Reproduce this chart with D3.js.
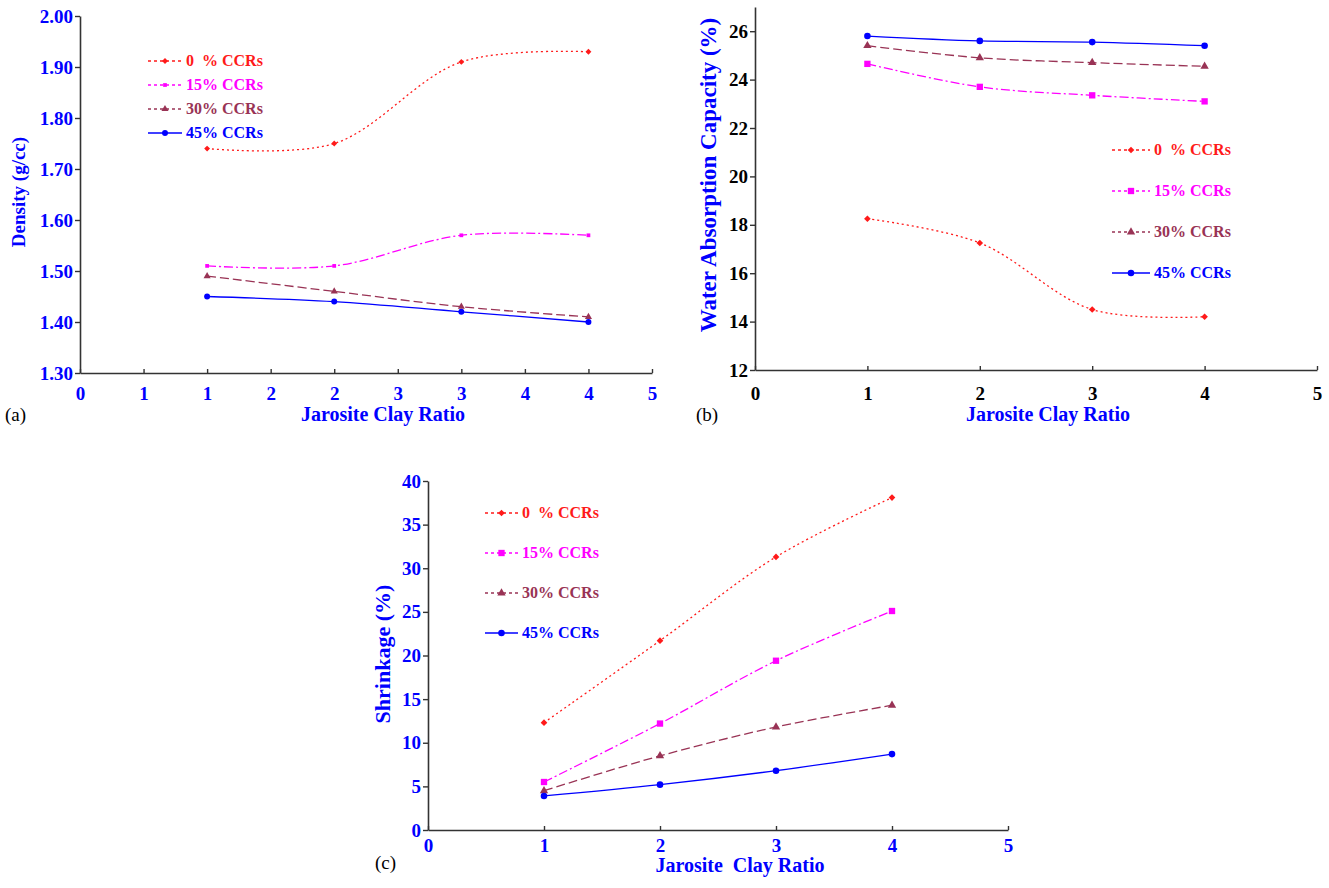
<!DOCTYPE html>
<html>
<head>
<meta charset="utf-8">
<script src="https://cdn.jsdelivr.net/npm/d3@7"></script>
<style>
  body { margin: 0; background: #fff; }
  text { font-family: "Liberation Serif", "Times New Roman", serif; }
</style>
</head>
<body>
<div id="chart"></div>
<script>
// Three panels: density, water absorption, shrinkage vs jarosite clay ratio

// Pt. 0 - DATA

const ratios = [1, 2, 3, 4];
const seriesNames = ["0  % CCRs", "15% CCRs", "30% CCRs", "45% CCRs"];

// (a) density g/cc
const density0 = [1.74, 1.75, 1.91, 1.93];
const density15 = [1.51, 1.51, 1.57, 1.57];
const density30 = [1.49, 1.46, 1.43, 1.41];
const density45 = [1.45, 1.44, 1.42, 1.40];

// (b) water absorption %
const water0 = [18.25, 17.25, 14.5, 14.2];
const water15 = [24.65, 23.7, 23.35, 23.1];
const water30 = [25.4, 24.9, 24.7, 24.55];
const water45 = [25.8, 25.6, 25.55, 25.4];

// (c) shrinkage %
const shrink0 = [12.3, 21.7, 31.3, 38.1];
const shrink15 = [5.5, 12.2, 19.4, 25.1];
const shrink30 = [4.5, 8.5, 11.8, 14.3];
const shrink45 = [3.9, 5.2, 6.8, 8.7];

// tick values and labels
const xTicksA = [0, 0.5, 1, 1.5, 2, 2.5, 3, 3.5, 4, 4.5];
const xLabelsA = ["0", "1", "1", "2", "2", "3", "3", "4", "4", "5"];
const yTicksA = [1.30, 1.40, 1.50, 1.60, 1.70, 1.80, 1.90, 2.00];
const xTicksB = [0, 1, 2, 3, 4, 5];
const yTicksB = [12, 14, 16, 18, 20, 22, 24, 26];
const xTicksC = [0, 1, 2, 3, 4, 5];
const yTicksC = [0, 5, 10, 15, 20, 25, 30, 35, 40];
const yMinorC = [2.5, 7.5, 12.5, 17.5, 22.5, 27.5, 32.5, 37.5];

// Pt. 1 - STYLE

const colors = ["#ff1a1a", "#ff00ff", "#993355", "#0000ff"],
      dashes = ["2,3", "9,3,2,3", "9,4", null],
      shapes = [d3.symbolDiamond2, d3.symbolSquare, d3.symbolTriangle, d3.symbolCircle];

const width = 1329, height = 888;

let svg = d3.select("#chart")
    .append("svg")
    .attr("width", width)
    .attr("height", height);

// draw one panel
function panel(p) {
    let x = d3.scaleLinear().domain(p.xDomain).range([p.left, p.right]);
    let y = d3.scaleLinear().domain(p.yDomain).range([p.bottom, p.top]);

    let g = svg.append("g");

    // x axis
    g.append("g")
        .attr("transform", `translate(0, ${p.bottom})`)
        .call(d3.axisBottom(x)
            .tickValues(p.xTicks)
            .tickFormat((d, i) => p.xLabels ? p.xLabels[i] : d)
            .tickSizeInner(-4).tickSizeOuter(0).tickPadding(p.xPad));
    // y axis
    g.append("g")
        .attr("transform", `translate(${p.left}, 0)`)
        .call(d3.axisLeft(y)
            .tickValues(p.yTicks)
            .tickFormat(p.yFormat)
            .tickSize(5).tickSizeOuter(0).tickPadding(2));
    if (p.yMinor) {
        g.append("g")
            .attr("transform", `translate(${p.left}, 0)`)
            .call(d3.axisLeft(y).tickValues(p.yMinor).tickFormat("").tickSize(3).tickSizeOuter(0));
    }
    g.selectAll(".domain").attr("stroke", "#333").attr("stroke-width", 1.6);
    g.selectAll(".tick line").attr("stroke", "#333").attr("stroke-width", 1.4);
    g.selectAll(".tick text")
        .style("font-family", "Liberation Serif")
        .style("font-weight", "bold")
        .style("font-size", p.tickSize + "px")
        .attr("fill", p.tickColor);

    // lines
    p.series.forEach((vals, i) => {
        let pts = ratios.map((r, j) => [r, vals[j]]);
        g.append("path")
            .datum(pts)
            .attr("fill", "none")
            .attr("stroke", colors[i])
            .attr("stroke-width", 1.3)
            .attr("stroke-dasharray", dashes[i])
            .attr("d", d3.line().x(d => x(d[0])).y(d => y(d[1])).curve(d3.curveCatmullRom));
        g.selectAll(null)
            .data(pts)
            .join("path")
            .attr("transform", d => `translate(${x(d[0])}, ${y(d[1])})`)
            .attr("d", d3.symbol().type(shapes[i]).size(p.markSize[i]))
            .attr("fill", colors[i]);
    });

    // legend
    seriesNames.forEach((name, i) => {
        let ly = p.legend.y + i * p.legend.step;
        g.append("line")
            .attr("x1", p.legend.x).attr("x2", p.legend.x + p.legend.len)
            .attr("y1", ly).attr("y2", ly)
            .attr("stroke", colors[i]).attr("stroke-width", 1.3)
            .attr("stroke-dasharray", dashes[i] ? "3,3" : null);
        g.append("path")
            .attr("transform", `translate(${p.legend.x + p.legend.len / 2}, ${ly})`)
            .attr("d", d3.symbol().type(shapes[i]).size(p.markSize[i]))
            .attr("fill", colors[i]);
        g.append("text")
            .attr("x", p.legend.x + p.legend.len + 4)
            .attr("y", ly + 5)
            .attr("fill", colors[i])
            .style("font-weight", "bold")
            .style("font-size", p.legend.font + "px")
            .style("white-space", "pre")
            .text(name);
    });

    // axis titles
    g.append("text")
        .attr("x", p.xTitleX)
        .attr("y", p.xTitleY)
        .attr("text-anchor", "middle")
        .attr("fill", "#0000ff")
        .style("font-weight", "bold")
        .style("font-size", "20px")
        .style("white-space", "pre")
        .text(p.xTitle);
    g.append("text")
        .attr("transform", `translate(${p.yTitleX}, ${p.yTitleCy}) rotate(-90)`)
        .attr("text-anchor", "middle")
        .attr("fill", "#0000ff")
        .style("font-weight", "bold")
        .style("font-size", p.yTitleSize + "px")
        .text(p.yTitle);
    g.append("text")
        .attr("x", p.tag[0]).attr("y", p.tag[1])
        .attr("fill", "#000")
        .style("font-size", "19px")
        .text(p.tagText);
}

panel({
    left: 80, right: 652, top: 16, bottom: 373,
    xDomain: [0, 4.5], yDomain: [1.30, 2.00],
    xTicks: xTicksA, xLabels: xLabelsA, yTicks: yTicksA, yFormat: d3.format(".2f"),
    tickColor: "#0000ff", tickSize: 19, xPad: 14,
    series: [density0, density15, density30, density45],
    markSize: [22, 14, 22, 28],
    legend: { x: 148, y: 61, step: 24, len: 34, font: 16 },
    xTitle: "Jarosite Clay Ratio", xTitleX: 383, xTitleY: 421,
    yTitle: "Density (g/cc)", yTitleX: 25, yTitleCy: 192, yTitleSize: 19,
    tag: [5, 421], tagText: "(a)"
});

panel({
    left: 755, right: 1317, top: 7, bottom: 370,
    xDomain: [0, 5], yDomain: [12, 27],
    xTicks: xTicksB, xLabels: null, yTicks: yTicksB, yFormat: d3.format("d"),
    tickColor: "#000", tickSize: 19, xPad: 17,
    series: [water0, water15, water30, water45],
    markSize: [28, 40, 30, 34],
    legend: { x: 1112, y: 150, step: 41, len: 38, font: 16 },
    xTitle: "Jarosite Clay Ratio", xTitleX: 1048, xTitleY: 421,
    yTitle: "Water Absorption Capacity (%)", yTitleX: 716, yTitleCy: 175, yTitleSize: 23,
    tag: [696, 421], tagText: "(b)"
});

panel({
    left: 428, right: 1008, top: 481, bottom: 830,
    xDomain: [0, 5], yDomain: [0, 40],
    xTicks: xTicksC, xLabels: null, yTicks: yTicksC, yFormat: d3.format("d"),
    tickColor: "#0000ff", tickSize: 19, xPad: 9,
    series: [shrink0, shrink15, shrink30, shrink45],
    markSize: [28, 40, 30, 34],
    legend: { x: 485, y: 513, step: 40, len: 33, font: 16 },
    xTitle: "Jarosite  Clay Ratio", xTitleX: 740, xTitleY: 872,
    yTitle: "Shrinkage (%)", yTitleX: 390, yTitleCy: 654, yTitleSize: 22,
    tag: [375, 869], tagText: "(c)"
});
</script>
</body>
</html>
